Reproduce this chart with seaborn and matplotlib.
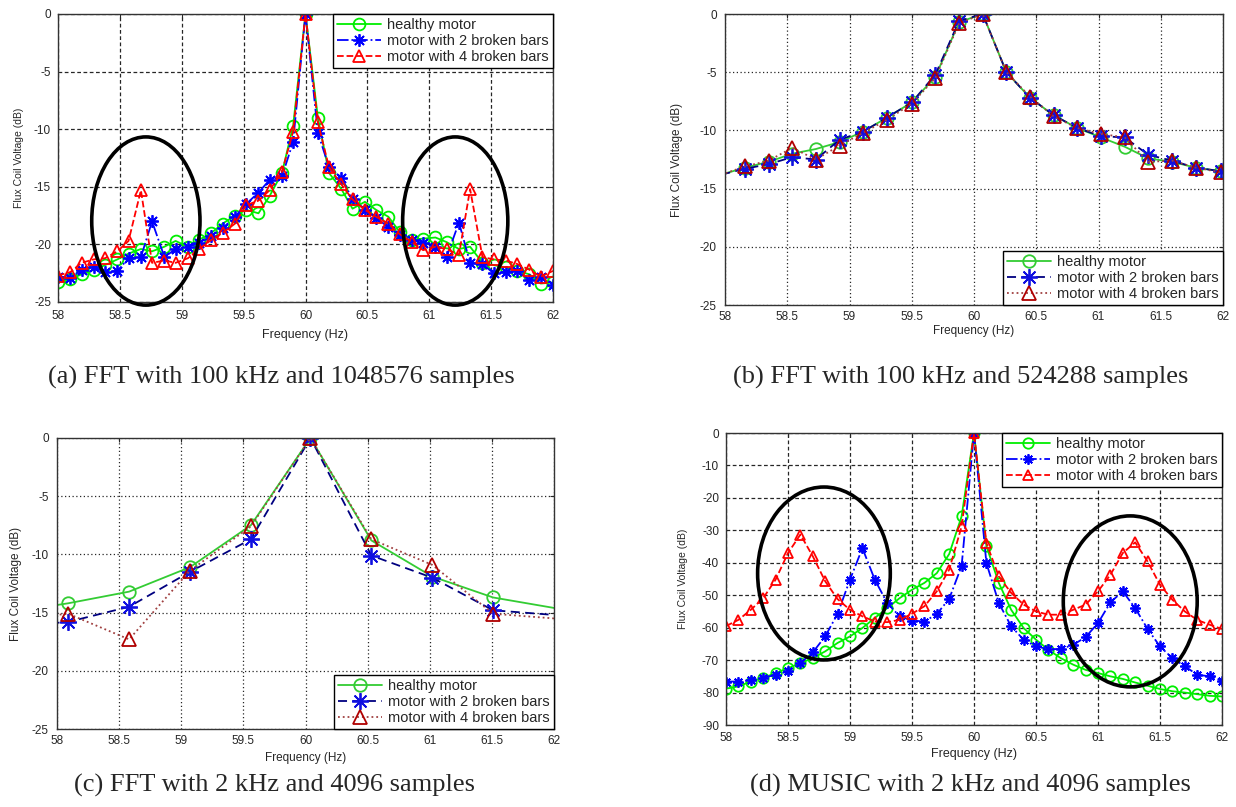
import numpy as np
import matplotlib
matplotlib.use('Agg')
import matplotlib.pyplot as plt
from matplotlib.patches import Ellipse
import seaborn as sns

# (a) FFT, 100 kHz, 1048576 samples
freq_a = [58.00, 58.10, 58.19, 58.29, 58.38, 58.48, 58.57, 58.67, 58.76, 58.86, 58.95,
          59.05, 59.14, 59.24, 59.33, 59.43, 59.52, 59.62, 59.71, 59.81, 59.90, 60.00,
          60.10, 60.19, 60.29, 60.38, 60.48, 60.57, 60.67, 60.76, 60.86, 60.95, 61.05,
          61.14, 61.24, 61.33, 61.43, 61.52, 61.62, 61.71, 61.81, 61.90, 62.00]
healthy_a = [-23.3, -23.0, -22.6, -22.2, -21.8, -21.3, -20.8, -20.4, -20.6, -20.2, -19.7,
             -20.2, -19.6, -19.0, -18.2, -17.5, -17.0, -17.3, -15.8, -13.8, -9.7, 0.0,
             -9.0, -13.8, -15.2, -16.9, -16.3, -17.0, -17.6, -18.9, -19.6, -19.5, -19.4,
             -19.8, -20.4, -20.2, -21.6, -21.8, -22.0, -22.3, -22.6, -23.4, -23.3]
bars2_a = [-22.8, -22.9, -22.2, -22.0, -22.4, -22.3, -21.2, -21.1, -18.0, -21.1, -20.4,
           -20.2, -19.9, -19.3, -18.6, -17.6, -16.5, -15.5, -14.4, -14.1, -11.1, 0.0,
           -10.3, -13.3, -14.2, -16.1, -17.0, -17.7, -18.5, -19.2, -19.6, -19.9, -20.2,
           -21.1, -18.1, -21.6, -21.7, -22.5, -22.4, -22.3, -23.1, -22.8, -23.5]
bars4_a = [-22.7, -22.4, -21.6, -21.3, -21.2, -20.6, -19.7, -15.3, -21.6, -21.4, -21.6,
           -21.2, -20.4, -19.6, -19.0, -18.2, -16.6, -16.2, -15.3, -13.7, -10.2, 0.0,
           -9.4, -13.3, -14.8, -16.1, -17.0, -17.6, -18.2, -19.1, -19.8, -20.5, -20.2,
           -20.4, -20.9, -15.2, -21.1, -21.3, -21.4, -21.7, -22.2, -22.8, -22.3]

# (b) FFT, 100 kHz, 524288 samples
freq_b = [57.97, 58.16, 58.35, 58.54, 58.73, 58.92, 59.11, 59.30, 59.50, 59.69, 59.88,
          60.07, 60.26, 60.45, 60.64, 60.83, 61.02, 61.21, 61.40, 61.59, 61.78, 61.98]
healthy_b = [-13.8, -13.2, -12.7, -12.0, -11.6, -11.0, -10.1, -8.9, -7.6, -5.4, -0.7,
             0.0, -5.0, -7.2, -8.7, -9.8, -10.6, -11.4, -12.4, -12.7, -13.2, -13.5]
bars2_b = [-13.8, -13.3, -12.9, -12.3, -12.5, -10.8, -10.1, -8.9, -7.6, -5.2, -0.6,
           0.0, -5.0, -7.2, -8.7, -9.8, -10.5, -10.6, -12.1, -12.6, -13.2, -13.5]
bars4_b = [-13.8, -13.1, -12.6, -11.5, -12.5, -11.3, -10.2, -9.1, -7.7, -5.5, -0.8,
           0.0, -5.0, -7.1, -8.8, -9.8, -10.3, -10.6, -12.7, -12.6, -13.2, -13.6]

# (c) FFT, 2 kHz, 4096 samples
freq_c = [57.60, 58.09, 58.58, 59.07, 59.56, 60.04, 60.53, 61.02, 61.51, 62.00]
healthy_c = [-15.0, -14.2, -13.2, -11.1, -7.5, 0.0, -8.8, -11.9, -13.7, -14.6]
bars2_c = [-16.2, -15.8, -14.5, -11.5, -8.7, 0.0, -10.1, -12.0, -14.8, -15.2]
bars4_c = [-15.6, -15.1, -17.3, -11.4, -7.6, 0.0, -8.7, -10.9, -15.1, -15.5]

# (d) MUSIC, 2 kHz, 4096 samples
freq_d = [58.0, 58.1, 58.2, 58.3, 58.4, 58.5, 58.6, 58.7, 58.8, 58.9, 59.0,
          59.1, 59.2, 59.3, 59.4, 59.5, 59.6, 59.7, 59.8, 59.9, 60.0,
          60.1, 60.2, 60.3, 60.4, 60.5, 60.6, 60.7, 60.8, 60.9, 61.0,
          61.1, 61.2, 61.3, 61.4, 61.5, 61.6, 61.7, 61.8, 61.9, 62.0]
healthy_d = [-78.8, -78.1, -76.6, -75.5, -74.0, -72.5, -70.9, -69.4, -67.3, -64.7, -62.7,
             -60.1, -57.0, -54.0, -50.9, -48.3, -46.2, -43.2, -37.3, -25.7, 0.0,
             -34.9, -46.2, -54.5, -60.1, -63.7, -66.8, -69.4, -71.4, -73.0, -74.0,
             -75.0, -75.8, -76.9, -77.9, -78.9, -79.6, -80.0, -80.5, -81.0, -81.2]
bars2_d = [-76.6, -76.6, -76.1, -75.5, -74.5, -73.5, -70.9, -67.6, -62.7, -55.7, -45.2,
           -35.5, -45.2, -52.4, -56.5, -57.8, -58.1, -55.8, -51.1, -41.0, 0.0,
           -40.1, -52.4, -59.6, -63.7, -65.8, -66.6, -66.6, -65.3, -62.9, -58.6,
           -52.2, -48.8, -54.0, -60.4, -65.8, -69.4, -71.9, -74.5, -75.0, -76.3]
bars4_d = [-59.5, -57.6, -54.5, -50.9, -45.2, -37.0, -31.3, -38.0, -45.7, -51.2, -54.5,
           -56.5, -58.1, -58.3, -57.6, -55.7, -53.4, -48.8, -42.1, -28.8, 0.0,
           -33.9, -44.2, -49.3, -52.9, -55.0, -56.0, -56.0, -54.5, -52.9, -48.8,
           -43.7, -37.0, -33.7, -39.6, -46.8, -51.4, -55.0, -57.6, -59.1, -60.4]

labels = ['healthy motor', 'motor with 2 broken bars', 'motor with 4 broken bars']
captions = ['(a) FFT with 100 kHz and 1048576 samples',
            '(b) FFT with 100 kHz and 524288 samples',
            '(c) FFT with 2 kHz and 4096 samples',
            '(d) MUSIC with 2 kHz and 4096 samples']

sns.set_style('white')
plt.rcParams['font.family'] = ['Liberation Sans', 'DejaVu Sans']

ASTERISK = (8, 2, 0)


def draw(ax, x, series, styles, mark=None):
    for y, lab, st in zip(series, labels, styles):
        color, line_c, marker, ls, size = st
        sns.lineplot(x=x, y=y, ax=ax, color=line_c, linestyle=ls, lw=1.3,
                     marker=marker, markersize=size, markerfacecolor='none',
                     markeredgecolor=color, markeredgewidth=1.3, label=lab,
                     errorbar=None, markevery=mark)


def style_axes(ax, ylim, yticks, grid_ls, fs, lfs, xfs, xpad, ypad, xlp, ylp):
    ax.set_xlim(58, 62)
    ax.set_ylim(*ylim)
    ax.set_xticks([58, 58.5, 59, 59.5, 60, 60.5, 61, 61.5, 62])
    ax.set_xticklabels(['58', '58.5', '59', '59.5', '60', '60.5', '61', '61.5', '62'])
    ax.set_yticks(yticks)
    ax.set_yticklabels([str(t) for t in yticks])
    ax.grid(True, color='black', linestyle=grid_ls, lw=0.9, alpha=0.85)
    ax.tick_params(labelsize=fs, direction='in', top=True, right=True, length=3)
    ax.tick_params(axis='x', pad=xpad)
    ax.tick_params(axis='y', pad=ypad)
    for s in ax.spines.values():
        s.set_color('#333333')
        s.set_linewidth(1.0)
    ax.set_xlabel('Frequency (Hz)', fontsize=xfs, labelpad=xlp)
    ax.set_ylabel('Flux Coil Voltage (dB)', fontsize=lfs, labelpad=ylp)


fig = plt.figure(figsize=(12.36, 8.07), dpi=100)
W, H = 1236, 807


def add_axes(l, r, t, b):
    return fig.add_axes([l / W, 1 - b / H, (r - l) / W, (b - t) / H])


ax_a = add_axes(58, 553, 14, 302)
ax_b = add_axes(725, 1223, 14, 305)
ax_c = add_axes(57, 554, 438, 729)
ax_d = add_axes(726, 1222, 433, 725)

bright = [('#00ee00', '#00ee00', 'o', '-', 8.5),
          ('#0000ff', '#0000ff', ASTERISK, '-.', 9),
          ('#ff0000', '#ff0000', '^', '--', 8.5)]
muted = [('#33cc33', '#33cc33', 'o', '-', 9),
         ('#1010e0', '#000080', ASTERISK, (0, (5, 3)), 12),
         ('#b00000', '#a04040', '^', ':', 9.5)]

draw(ax_a, freq_a, [healthy_a, bars2_a, bars4_a], bright)
draw(ax_b, freq_b, [healthy_b, bars2_b, bars4_b], muted, mark=slice(1, None))
draw(ax_c, freq_c, [healthy_c, bars2_c, bars4_c], muted, mark=slice(1, 9))
bright_d = [(c, lc, m, ls, 7.5) for c, lc, m, ls, _ in bright]
draw(ax_d, freq_d, [healthy_d, bars2_d, bars4_d], bright_d)

style_axes(ax_a, (-25, 0), [-25, -20, -15, -10, -5, 0], (0, (3, 2)),
           8.5, 7.5, 9, 6, 5, 5, 7)
style_axes(ax_b, (-25, 0), [-25, -20, -15, -10, -5, 0], (0, (1, 2)),
           8.5, 8.5, 8.5, 4, 6, 2, 12)
style_axes(ax_c, (-25, 0), [-25, -20, -15, -10, -5, 0], (0, (1, 2)),
           8.5, 8.5, 8.5, 4, 6, 4, 7)
style_axes(ax_d, (-90, 0), [-90, -80, -70, -60, -50, -40, -30, -20, -10, 0], (0, (3, 2)),
           8.5, 7.5, 9, 5, 5, 3, 10)

leg_kw = dict(frameon=True, fancybox=False, framealpha=1, edgecolor='black',
              fontsize=10.5, handlelength=3.0, borderpad=0.3, labelspacing=0.12,
              handletextpad=0.4, borderaxespad=0)
ax_a.legend(loc='upper right', **leg_kw)
ax_b.legend(loc='lower right', **leg_kw)
ax_c.legend(loc='lower right', **leg_kw)
ax_d.legend(loc='upper right', **leg_kw)

# circled sidebands
for ax, cx, cy, w, h in [(ax_a, 58.71, -17.97, 0.875, 14.6), (ax_a, 61.21, -17.97, 0.85, 14.6),
                         (ax_d, 58.79, -43.3, 1.07, 53.3), (ax_d, 61.26, -51.9, 1.08, 52.7)]:
    ax.add_patch(Ellipse((cx, cy), w, h, fill=False, edgecolor='black', lw=2.6,
                         clip_on=False, zorder=5))

for (cx, cy), text in zip([(281, 377), (961, 377), (274, 785), (970, 785)], captions):
    fig.text(cx / W, 1 - cy / H, text, ha='center', va='center',
             fontsize=19, family='Liberation Serif')

fig.savefig('out.png', dpi=100)
